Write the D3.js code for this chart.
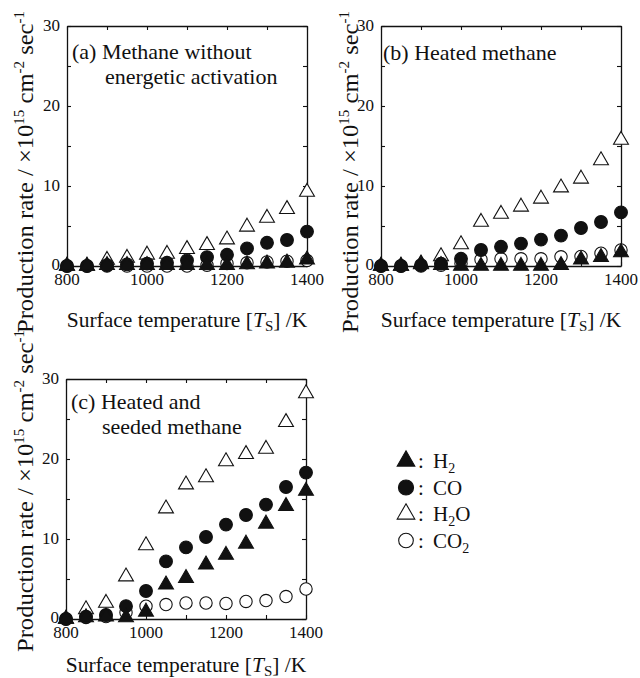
<!DOCTYPE html>
<html>
<head>
<meta charset="utf-8">
<script src="https://cdn.jsdelivr.net/npm/d3@7"></script>
<style>
  body { margin: 0; background: #fff; }
  svg { display: block; }
  text { font-family: "Liberation Serif", "Times New Roman", serif; fill: #111; }
</style>
</head>
<body>
<svg id="fig" width="640" height="678"></svg>
<script>
// x values (surface temperature, K)
const temps = [800, 850, 900, 950, 1000, 1050, 1100, 1150, 1200, 1250, 1300, 1350, 1400];
const xTicks = [800, 900, 1000, 1100, 1200, 1300, 1400];
const xLabels = [800, 1000, 1200, 1400];
const yTicks = [0, 5, 10, 15, 20, 25, 30];
const yLabels = [0, 10, 20, 30];

// (a) methane without energetic activation
const h2A  = [0, 0, 0.1, 0.1, 0.1, 0.1, 0.1, 0.1, 0.1, 0.2, 0.3, 0.4, 0.8];
const coA  = [0, 0, 0.1, 0.2, 0.3, 0.4, 0.7, 1.1, 1.4, 2.2, 2.9, 3.25, 4.3];
const h2oA = [0, 0, 0.75, 1.0, 1.4, 1.5, 2.1, 2.6, 3.3, 4.9, 6.0, 7.1, 9.25];
const co2A = [0, 0, 0, 0, 0, 0, 0, 0.1, 0.3, 0.4, 0.5, 0.6, 0.7];

// (b) heated methane
const h2B  = [0, 0, 0.2, 0.1, 0, 0, 0, 0, 0, 0.1, 0.8, 1.1, 1.7];
const coB  = [0, 0, 0.1, 0.3, 0.9, 2.0, 2.4, 2.8, 3.3, 3.8, 4.75, 5.5, 6.7];
const h2oB = [0, 0, 0.3, 1.2, 2.7, 5.5, 6.5, 7.4, 8.4, 9.8, 10.9, 13.2, 15.75];
const co2B = [0, 0, 0, 0.1, 0.3, 0.8, 0.9, 0.9, 0.9, 1.15, 1.2, 1.6, 2.0];

// (c) heated and seeded methane
const h2C  = [0, 0.2, 0.3, 0.2, 0.9, 4.3, 5.1, 6.8, 8.0, 9.4, 11.9, 14.1, 16.0];
const coC  = [0, 0.3, 0.5, 1.6, 3.5, 7.2, 8.95, 10.25, 11.8, 13.0, 14.3, 16.5, 18.3];
const h2oC = [0, 1.2, 2.0, 5.3, 9.2, 13.8, 16.8, 17.7, 19.7, 20.6, 21.25, 24.6, 28.2];
const co2C = [0, 0.2, 0.3, 0.8, 1.6, 1.8, 2.0, 2.0, 1.95, 2.2, 2.3, 2.8, 3.75];

const svg = d3.select("#fig");
const W = 240, H = 240;

// marker styles, drawn in this order (open ones underneath)
const styles = {
  h2o: { type: d3.symbolTriangle, size: 96, fill: "#fff" },
  co2: { type: d3.symbolCircle, size: 120, fill: "#fff" },
  co:  { type: d3.symbolCircle, size: 128, fill: "#111" },
  h2:  { type: d3.symbolTriangle, size: 96, fill: "#111" }
};

function marker(g, key, x, y, scale) {
  const s = styles[key];
  g.append("path")
    .attr("d", d3.symbol().type(s.type).size(s.size * (scale || 1))())
    .attr("transform", `translate(${x},${y})`)
    .attr("fill", s.fill)
    .attr("stroke", "#111")
    .attr("stroke-width", 1.1);
}

function panel(cfg) {
  const g = svg.append("g").attr("transform", `translate(${cfg.x},${cfg.y})`);
  const x = d3.scaleLinear().domain([800, 1400]).range([0, W]);
  const y = d3.scaleLinear().domain([0, 30]).range([H, 0]);

  // axes: ticks pointing inward on all four sides
  const bottom = g.append("g").attr("transform", `translate(0,${H})`)
    .call(d3.axisBottom(x).tickValues(xTicks).tickSizeInner(-4).tickSizeOuter(0).tickFormat(""));
  const top = g.append("g")
    .call(d3.axisTop(x).tickValues(xTicks).tickSizeInner(-4).tickSizeOuter(0).tickFormat(""));
  const left = g.append("g")
    .call(d3.axisLeft(y).tickValues(yTicks).tickSizeInner(-4).tickSizeOuter(0).tickFormat(""));
  const right = g.append("g").attr("transform", `translate(${W},0)`)
    .call(d3.axisRight(y).tickValues(yTicks).tickSizeInner(-4).tickSizeOuter(0).tickFormat(""));
  [bottom, top, left, right].forEach(a => {
    a.selectAll("path.domain").attr("stroke", "#111").attr("stroke-width", 1.3);
    a.selectAll(".tick line").attr("stroke", "#111").attr("stroke-width", 1.1);
  });

  g.selectAll(".xl").data(xLabels).join("text")
    .attr("x", d => x(d)).attr("y", H + 18.5)
    .attr("text-anchor", "middle").attr("font-size", 17)
    .text(d => d);
  g.selectAll(".yl").data(yLabels).join("text")
    .attr("x", -7).attr("y", d => y(d) + (d === 0 ? 3.5 : 5))
    .attr("text-anchor", "end").attr("font-size", 17)
    .text(d => d);

  // panel title
  cfg.title.forEach((line, i) => {
    g.append("text")
      .attr("x", line[0]).attr("y", cfg.ty + i * 25)
      .attr("font-size", 22)
      .text(line[1]);
  });

  // x axis title
  const xt = g.append("text")
    .attr("x", W / 2).attr("y", H + cfg.xty)
    .attr("text-anchor", "middle").attr("font-size", 21.5);
  xt.append("tspan").text("Surface temperature [");
  xt.append("tspan").attr("font-style", "italic").text("T");
  xt.append("tspan").attr("font-size", 15).attr("dy", 4).text("S");
  xt.append("tspan").attr("dy", -4).text("] /K");

  // y axis title
  const yt = g.append("text")
    .attr("transform", `translate(${cfg.ylx},${cfg.ylc}) rotate(-90)`)
    .attr("text-anchor", "middle").attr("font-size", 23)
    .attr("textLength", 322).attr("lengthAdjust", "spacingAndGlyphs");
  yt.append("tspan").text("Production rate / \u00d710");
  yt.append("tspan").attr("font-size", 14).attr("dy", -9).text("15");
  yt.append("tspan").attr("dy", 9).text(" cm");
  yt.append("tspan").attr("font-size", 14).attr("dy", -9).text("-2");
  yt.append("tspan").attr("dy", 9).text(" sec");
  yt.append("tspan").attr("font-size", 14).attr("dy", -9).text("-1");

  // data points
  const pts = g.append("g");
  [["h2o", cfg.h2o], ["co2", cfg.co2], ["co", cfg.co], ["h2", cfg.h2]].forEach(([key, vals]) => {
    vals.forEach((v, i) => marker(pts, key, x(temps[i]), y(v)));
  });
}

panel({ x: 67, y: 26, ylx: -34, ylc: 146, ty: 33, xty: 61, h2: h2A, co: coA, h2o: h2oA, co2: co2A,
  title: [[5, "(a)  Methane without"], [38, "energetic activation"]] });
panel({ x: 381, y: 26, ylx: -23, ylc: 146, ty: 34, xty: 61, h2: h2B, co: coB, h2o: h2oB, co2: co2B,
  title: [[2, "(b) Heated methane"]] });
panel({ x: 66, y: 379, ylx: -33, ylc: 112, ty: 30, xty: 53, h2: h2C, co: coC, h2o: h2oC, co2: co2C,
  title: [[5, "(c)  Heated and"], [36, "seeded methane"]] });

// legend
const legend = [
  ["h2", "H", "2", ""],
  ["co", "CO", "", ""],
  ["h2o", "H", "2", "O"],
  ["co2", "CO", "2", ""]
];
const lg = svg.append("g").attr("transform", "translate(406,461)");
legend.forEach((d, i) => {
  const yy = i * 26.5;
  marker(lg, d[0], 0, yy, 1.4);
  lg.append("text").attr("x", 12).attr("y", yy + 7).attr("font-size", 21).text(":");
  const t = lg.append("text").attr("x", 27).attr("y", yy + 7).attr("font-size", 21);
  t.append("tspan").text(d[1]);
  if (d[2]) t.append("tspan").attr("font-size", 14).attr("dy", 5).text(d[2]);
  if (d[3]) t.append("tspan").attr("dy", -5).text(d[3]);
});
</script>
</body>
</html>
